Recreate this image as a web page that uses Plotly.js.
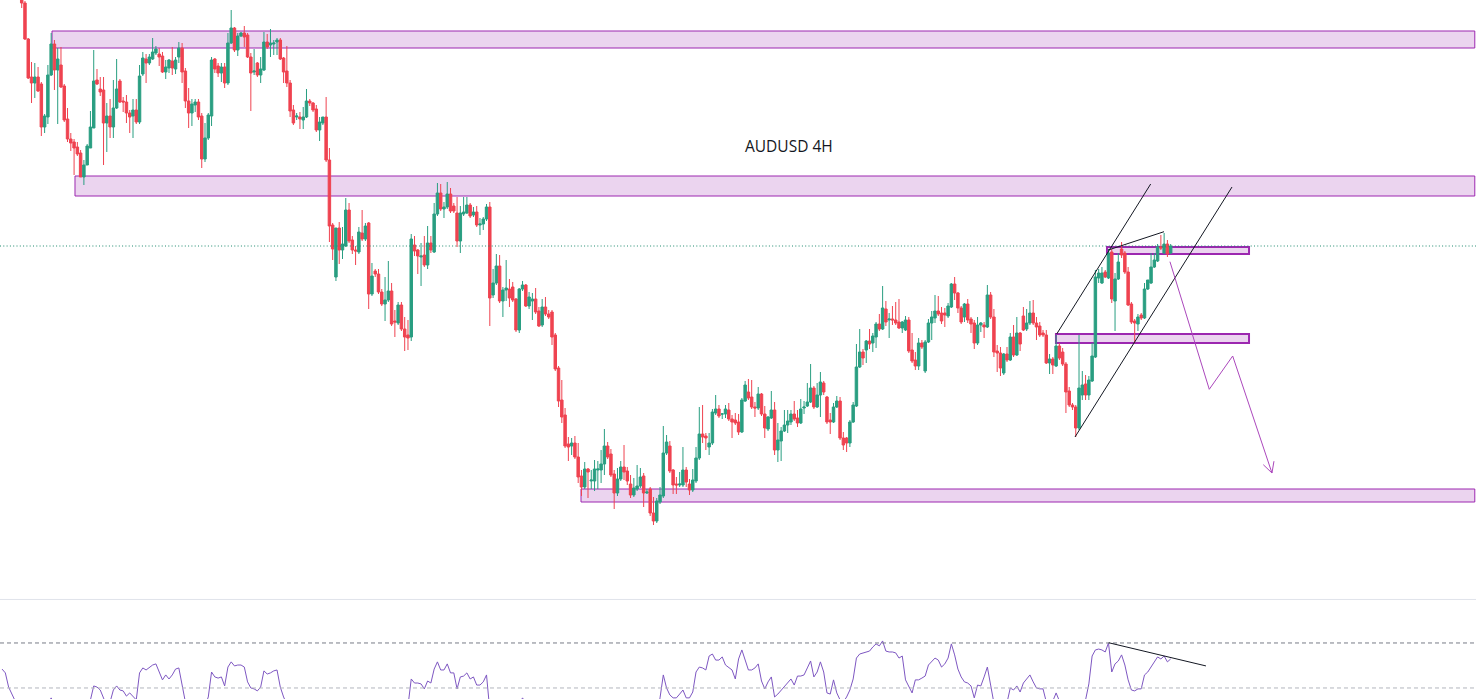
<!DOCTYPE html>
<html>
<head>
<meta charset="utf-8">
<script src="https://cdn.plot.ly/plotly-3.0.1.min.js"></script>
<style>
html,body{margin:0;padding:0;background:#ffffff;}
#chart{width:1476px;height:699px;}
</style>
</head>
<body>
<div id="chart"></div>
<script>
// AUDUSD 4H candles (one entry per bar, oldest first)
const openPrices = [
0.7058,0.7050,0.7040,0.7031,0.7022,0.7013,
0.7005,0.6997,0.6961,0.6923,0.6917,0.6923,0.6916,0.6873,0.6883,0.6925,
0.6956,0.6930,0.6935,0.6914,0.6881,0.6861,0.6858,0.6853,0.6847,0.6823,
0.6835,0.6852,0.6872,0.6920,0.6911,0.6910,0.6877,0.6884,0.6873,0.6892,
0.6919,0.6899,0.6898,0.6887,0.6884,0.6890,0.6878,0.6926,0.6941,0.6937,
0.6941,0.6947,0.6946,0.6944,0.6928,0.6932,0.6939,0.6931,0.6943,0.6952,
0.6929,0.6899,0.6887,0.6895,0.6898,0.6884,0.6841,0.6862,0.6884,0.6941,
0.6934,0.6927,0.6933,0.6917,0.6957,0.6972,0.6950,0.6964,0.6967,0.6965,
0.6943,0.6928,0.6937,0.6925,0.6930,0.6958,0.6955,0.6956,0.6958,0.6960,
0.6942,0.6929,0.6917,0.6890,0.6883,0.6883,0.6880,0.6883,0.6899,0.6897,
0.6891,0.6870,0.6877,0.6883,0.6840,0.6775,0.6723,0.6772,0.6750,0.6754,
0.6790,0.6760,0.6750,0.6748,0.6767,0.6761,0.6777,0.6706,0.6729,0.6726,
0.6708,0.6696,0.6700,0.6709,0.6679,0.6677,0.6695,0.6671,0.6665,0.6663,
0.6755,0.6750,0.6743,0.6745,0.6735,0.6757,0.6748,0.6786,0.6807,0.6791,
0.6793,0.6806,0.6794,0.6787,0.6759,0.6786,0.6787,0.6795,0.6785,0.6788,
0.6775,0.6776,0.6781,0.6793,0.6705,0.6717,0.6734,0.6699,0.6710,0.6711,
0.6713,0.6701,0.6670,0.6711,0.6715,0.6694,0.6699,0.6701,0.6689,0.6675,
0.6693,0.6686,0.6688,0.6665,0.6632,0.6600,0.6585,0.6556,0.6554,0.6557,
0.6543,0.6524,0.6513,0.6531,0.6519,0.6519,0.6530,0.6530,0.6536,0.6554,
0.6546,0.6526,0.6507,0.6521,0.6533,0.6529,0.6516,0.6505,0.6511,0.6514,
0.6524,0.6507,0.6511,0.6487,0.6479,0.6498,0.6504,0.6547,0.6554,0.6530,
0.6516,0.6515,0.6515,0.6530,0.6516,0.6510,0.6519,0.6542,0.6566,0.6564,
0.6553,0.6557,0.6587,0.6591,0.6586,0.6586,0.6590,0.6581,0.6580,0.6578,
0.6568,0.6599,0.6608,0.6603,0.6593,0.6592,0.6606,0.6586,0.6571,0.6582,
0.6590,0.6550,0.6559,0.6569,0.6575,0.6578,0.6586,0.6582,0.6577,0.6592,
0.6594,0.6598,0.6612,0.6593,0.6605,0.6617,0.6603,0.6580,0.6578,0.6593,
0.6599,0.6562,0.6562,0.6557,0.6578,0.6594,0.6633,0.6648,0.6650,0.6659,
0.6657,0.6663,0.6676,0.6671,0.6691,0.6680,0.6681,0.6680,0.6678,0.6672,
0.6670,0.6680,0.6650,0.6640,0.6634,0.6657,0.6629,0.6658,0.6677,0.6682,
0.6689,0.6687,0.6687,0.6684,0.6693,0.6716,0.6707,0.6692,0.6683,0.6696,
0.6681,0.6677,0.6657,0.6675,0.6675,0.6673,0.6705,0.6683,0.6649,0.6647,
0.6627,0.6646,0.6640,0.6663,0.6645,0.6667,0.6684,0.6671,0.6677,0.6687,
0.6677,0.6674,0.6667,0.6665,0.6637,0.6641,0.6634,0.6654,0.6648,0.6636,
0.6609,0.6595,0.6593,0.6572,0.6605,0.6616,0.6605,0.6619,0.6643,0.6722,
0.6717,0.6728,0.6722,0.6748,0.6699,0.6721,0.6751,0.6747,0.6728,0.6696,
0.6679,0.6676,0.6685,0.6682,0.6711,0.6717,0.6733,0.6739,0.6753,0.6747,
0.6756,0.6747];

const highPrices = [
0.7062,0.7055,0.7044,0.7036,0.7027,0.7017,
0.7008,0.6999,0.6962,0.6938,0.6937,0.6933,0.6918,0.6886,0.6935,0.6967,
0.6960,0.6952,0.6953,0.6916,0.6892,0.6867,0.6861,0.6858,0.6850,0.6840,
0.6856,0.6889,0.6950,0.6931,0.6923,0.6923,0.6897,0.6901,0.6920,0.6941,
0.6921,0.6903,0.6905,0.6890,0.6901,0.6901,0.6935,0.6948,0.6946,0.6946,
0.6962,0.6954,0.6952,0.6948,0.6940,0.6941,0.6953,0.6943,0.6958,0.6957,
0.6932,0.6912,0.6901,0.6901,0.6901,0.6887,0.6877,0.6887,0.6943,0.6942,
0.6937,0.6937,0.6937,0.6967,0.6990,0.6973,0.6967,0.6968,0.6974,0.6967,
0.6947,0.6951,0.6938,0.6943,0.6968,0.6966,0.6971,0.6960,0.6962,0.6962,
0.6943,0.6954,0.6920,0.6895,0.6887,0.6888,0.6893,0.6911,0.6901,0.6898,
0.6895,0.6883,0.6883,0.6903,0.6852,0.6777,0.6772,0.6778,0.6773,0.6802,
0.6797,0.6764,0.6754,0.6773,0.6790,0.6777,0.6778,0.6737,0.6731,0.6731,
0.6711,0.6723,0.6739,0.6717,0.6690,0.6698,0.6698,0.6683,0.6680,0.6766,
0.6764,0.6751,0.6757,0.6764,0.6774,0.6764,0.6797,0.6817,0.6816,0.6798,
0.6818,0.6812,0.6797,0.6803,0.6794,0.6803,0.6803,0.6797,0.6793,0.6794,
0.6782,0.6783,0.6796,0.6798,0.6731,0.6746,0.6745,0.6713,0.6740,0.6721,
0.6718,0.6702,0.6712,0.6719,0.6716,0.6708,0.6707,0.6712,0.6693,0.6701,
0.6703,0.6690,0.6690,0.6667,0.6634,0.6620,0.6592,0.6563,0.6562,0.6564,
0.6557,0.6530,0.6538,0.6532,0.6530,0.6540,0.6539,0.6550,0.6571,0.6558,
0.6551,0.6530,0.6532,0.6539,0.6555,0.6533,0.6525,0.6522,0.6535,0.6532,
0.6527,0.6511,0.6513,0.6503,0.6502,0.6513,0.6574,0.6565,0.6559,0.6531,
0.6523,0.6528,0.6553,0.6533,0.6521,0.6531,0.6553,0.6593,0.6595,0.6567,
0.6567,0.6591,0.6605,0.6595,0.6587,0.6595,0.6597,0.6585,0.6587,0.6586,
0.6602,0.6619,0.6621,0.6620,0.6598,0.6613,0.6607,0.6594,0.6584,0.6609,
0.6598,0.6577,0.6573,0.6590,0.6590,0.6590,0.6599,0.6590,0.6601,0.6599,
0.6617,0.6636,0.6614,0.6617,0.6628,0.6619,0.6604,0.6587,0.6597,0.6604,
0.6603,0.6568,0.6563,0.6580,0.6598,0.6656,0.6671,0.6651,0.6660,0.6671,
0.6667,0.6678,0.6686,0.6714,0.6699,0.6687,0.6694,0.6698,0.6701,0.6679,
0.6684,0.6683,0.6667,0.6648,0.6662,0.6660,0.6660,0.6681,0.6689,0.6705,
0.6704,0.6693,0.6692,0.6697,0.6717,0.6723,0.6708,0.6694,0.6697,0.6701,
0.6683,0.6680,0.6683,0.6678,0.6678,0.6715,0.6708,0.6691,0.6655,0.6653,
0.6647,0.6653,0.6667,0.6675,0.6683,0.6668,0.6693,0.6691,0.6699,0.6700,
0.6683,0.6678,0.6670,0.6670,0.6646,0.6643,0.6665,0.6657,0.6652,0.6638,
0.6613,0.6597,0.6595,0.6665,0.6629,0.6625,0.6624,0.6657,0.6730,0.6731,
0.6733,0.6730,0.6751,0.6751,0.6727,0.6747,0.6758,0.6749,0.6733,0.6698,
0.6681,0.6686,0.6687,0.6717,0.6720,0.6747,0.6747,0.6756,0.6765,0.6767,
0.6760,0.6756];

const lowPrices = [
0.7048,0.7038,0.7028,0.7020,0.7010,0.7002,
0.6992,0.6960,0.6921,0.6897,0.6902,0.6908,0.6864,0.6867,0.6876,0.6924,
0.6910,0.6876,0.6912,0.6878,0.6858,0.6849,0.6825,0.6844,0.6823,0.6815,
0.6835,0.6852,0.6872,0.6915,0.6904,0.6835,0.6848,0.6862,0.6862,0.6891,
0.6897,0.6888,0.6877,0.6867,0.6862,0.6876,0.6876,0.6924,0.6917,0.6935,
0.6940,0.6945,0.6934,0.6927,0.6921,0.6927,0.6925,0.6926,0.6937,0.6917,
0.6892,0.6872,0.6874,0.6888,0.6880,0.6832,0.6838,0.6860,0.6874,0.6927,
0.6923,0.6918,0.6912,0.6915,0.6956,0.6948,0.6944,0.6963,0.6953,0.6942,
0.6889,0.6925,0.6923,0.6917,0.6929,0.6951,0.6943,0.6945,0.6945,0.6940,
0.6917,0.6913,0.6883,0.6875,0.6880,0.6871,0.6871,0.6882,0.6894,0.6888,
0.6868,0.6859,0.6875,0.6838,0.6758,0.6740,0.6719,0.6736,0.6741,0.6753,
0.6757,0.6746,0.6735,0.6746,0.6759,0.6759,0.6691,0.6704,0.6723,0.6706,
0.6694,0.6679,0.6698,0.6674,0.6663,0.6675,0.6669,0.6649,0.6650,0.6659,
0.6744,0.6726,0.6714,0.6733,0.6731,0.6747,0.6747,0.6784,0.6789,0.6782,
0.6791,0.6787,0.6787,0.6753,0.6747,0.6784,0.6786,0.6782,0.6783,0.6773,
0.6765,0.6770,0.6779,0.6674,0.6702,0.6715,0.6697,0.6683,0.6699,0.6693,
0.6698,0.6668,0.6667,0.6709,0.6693,0.6691,0.6680,0.6686,0.6673,0.6673,
0.6684,0.6681,0.6655,0.6629,0.6593,0.6577,0.6552,0.6539,0.6545,0.6541,
0.6517,0.6504,0.6511,0.6502,0.6511,0.6509,0.6511,0.6517,0.6525,0.6541,
0.6523,0.6491,0.6504,0.6519,0.6520,0.6515,0.6502,0.6503,0.6509,0.6512,
0.6493,0.6506,0.6484,0.6475,0.6477,0.6496,0.6502,0.6545,0.6527,0.6506,
0.6506,0.6513,0.6513,0.6513,0.6505,0.6508,0.6517,0.6540,0.6557,0.6550,
0.6545,0.6555,0.6585,0.6582,0.6581,0.6582,0.6579,0.6562,0.6575,0.6565,
0.6567,0.6598,0.6600,0.6591,0.6583,0.6590,0.6584,0.6562,0.6569,0.6581,
0.6545,0.6538,0.6539,0.6568,0.6567,0.6575,0.6579,0.6573,0.6576,0.6586,
0.6593,0.6597,0.6591,0.6592,0.6583,0.6605,0.6576,0.6566,0.6577,0.6592,
0.6560,0.6550,0.6548,0.6553,0.6577,0.6593,0.6632,0.6635,0.6637,0.6651,
0.6648,0.6652,0.6669,0.6670,0.6674,0.6662,0.6675,0.6675,0.6671,0.6667,
0.6669,0.6647,0.6637,0.6630,0.6630,0.6651,0.6627,0.6657,0.6660,0.6677,
0.6684,0.6676,0.6673,0.6682,0.6692,0.6700,0.6687,0.6676,0.6678,0.6677,
0.6667,0.6651,0.6655,0.6668,0.6662,0.6672,0.6681,0.6643,0.6628,0.6624,
0.6625,0.6638,0.6639,0.6643,0.6644,0.6649,0.6669,0.6669,0.6675,0.6675,
0.6660,0.6663,0.6663,0.6636,0.6626,0.6626,0.6633,0.6640,0.6634,0.6587,
0.6593,0.6590,0.6563,0.6570,0.6600,0.6600,0.6600,0.6618,0.6642,0.6717,
0.6716,0.6722,0.6721,0.6697,0.6669,0.6720,0.6742,0.6726,0.6694,0.6676,
0.6657,0.6669,0.6680,0.6681,0.6710,0.6716,0.6732,0.6738,0.6750,0.6746,
0.6743,0.6746];

const closePrices = [
0.7050,0.7040,0.7031,0.7022,0.7013,0.7005,
0.6997,0.6961,0.6922,0.6917,0.6923,0.6909,0.6873,0.6884,0.6925,0.6956,
0.6930,0.6941,0.6913,0.6880,0.6861,0.6857,0.6852,0.6846,0.6823,0.6835,
0.6854,0.6873,0.6919,0.6916,0.6908,0.6877,0.6884,0.6873,0.6892,0.6911,
0.6898,0.6898,0.6887,0.6883,0.6890,0.6878,0.6924,0.6942,0.6937,0.6943,
0.6948,0.6951,0.6943,0.6928,0.6933,0.6940,0.6932,0.6940,0.6952,0.6928,
0.6899,0.6887,0.6896,0.6898,0.6883,0.6841,0.6862,0.6885,0.6940,0.6931,
0.6927,0.6933,0.6917,0.6957,0.6972,0.6950,0.6964,0.6967,0.6963,0.6943,
0.6927,0.6929,0.6925,0.6931,0.6958,0.6953,0.6957,0.6957,0.6960,0.6941,
0.6928,0.6917,0.6889,0.6877,0.6884,0.6881,0.6883,0.6899,0.6897,0.6890,
0.6870,0.6878,0.6883,0.6840,0.6774,0.6751,0.6772,0.6750,0.6756,0.6790,
0.6759,0.6750,0.6749,0.6768,0.6761,0.6774,0.6706,0.6724,0.6726,0.6708,
0.6696,0.6700,0.6709,0.6676,0.6678,0.6695,0.6671,0.6663,0.6662,0.6761,
0.6749,0.6744,0.6744,0.6735,0.6757,0.6750,0.6786,0.6807,0.6791,0.6793,
0.6806,0.6789,0.6789,0.6759,0.6787,0.6788,0.6795,0.6784,0.6788,0.6775,
0.6776,0.6781,0.6793,0.6702,0.6717,0.6734,0.6699,0.6710,0.6712,0.6702,
0.6700,0.6670,0.6711,0.6715,0.6694,0.6703,0.6701,0.6688,0.6674,0.6693,
0.6686,0.6683,0.6663,0.6631,0.6599,0.6583,0.6554,0.6553,0.6557,0.6543,
0.6523,0.6513,0.6531,0.6528,0.6520,0.6531,0.6531,0.6536,0.6554,0.6543,
0.6525,0.6507,0.6521,0.6533,0.6528,0.6519,0.6505,0.6512,0.6514,0.6523,
0.6507,0.6508,0.6487,0.6479,0.6499,0.6505,0.6547,0.6558,0.6529,0.6515,
0.6515,0.6516,0.6530,0.6518,0.6510,0.6520,0.6542,0.6566,0.6563,0.6562,
0.6557,0.6588,0.6591,0.6584,0.6586,0.6591,0.6581,0.6578,0.6577,0.6568,
0.6600,0.6615,0.6602,0.6593,0.6592,0.6606,0.6586,0.6572,0.6583,0.6590,
0.6550,0.6560,0.6569,0.6575,0.6579,0.6586,0.6581,0.6577,0.6591,0.6593,
0.6598,0.6612,0.6593,0.6605,0.6618,0.6608,0.6578,0.6578,0.6593,0.6599,
0.6562,0.6555,0.6557,0.6578,0.6595,0.6633,0.6648,0.6642,0.6659,0.6656,
0.6664,0.6676,0.6671,0.6692,0.6678,0.6681,0.6680,0.6677,0.6672,0.6678,
0.6680,0.6649,0.6639,0.6634,0.6657,0.6653,0.6658,0.6677,0.6683,0.6689,
0.6686,0.6679,0.6685,0.6694,0.6716,0.6707,0.6692,0.6678,0.6696,0.6680,
0.6676,0.6657,0.6675,0.6677,0.6673,0.6705,0.6683,0.6648,0.6647,0.6632,
0.6646,0.6640,0.6663,0.6645,0.6667,0.6656,0.6670,0.6677,0.6687,0.6677,
0.6673,0.6665,0.6665,0.6637,0.6641,0.6635,0.6654,0.6642,0.6636,0.6608,
0.6595,0.6593,0.6572,0.6612,0.6615,0.6605,0.6620,0.6644,0.6723,0.6727,
0.6727,0.6723,0.6747,0.6701,0.6721,0.6738,0.6745,0.6728,0.6695,0.6678,
0.6677,0.6683,0.6682,0.6711,0.6720,0.6733,0.6740,0.6753,0.6752,0.6756,
0.6746,0.6754];

// RSI(14) per bar
const rsiValues = [
58.4,56.7,50.4,46.9,43.3,40,37,35,36,38,
41,39,37,40,43,45.6,42,39,36,38,
35,37,40,38,36,39,42,44.7,50.9,50.4,
49.1,44.7,42,43.8,49.1,50.9,49.1,48.7,46.4,47.8,
46,44.7,56.7,58.9,58,59.3,60.2,60.7,57.1,53.6,
55.8,54,55.8,58.4,58.9,50.9,43.8,40,37,35,
38,36,42,46,57.1,54.9,54.4,54.9,50.9,59.3,
61.6,59.8,60.2,60.2,59.3,52.7,50,49.6,48.7,50.4,
57.6,56.2,56.7,57.6,58,50.4,46,42,38,35,
33,36,34,31,29,33,37,35,32,38,
41,39,36,30,27,25,31,34,37,40,
38,35,33,36,39,42,38,35,32,30,
34,37,33,36,42,54,52.2,52.2,51.8,49.6,
53.1,52.2,58.4,61.6,58,58,60.7,56.7,56.7,49.6,
54.9,55.3,56.7,54,54.9,51.3,51.3,52.7,55.8,40,
40,43,41,42,44,41,42,40,43,45.6,
43,41,42,39,34,30,28,25,26,27,
25,23,22,28,27,29,31,32,34,40,
38,35,31,33,36,35,34,32,34,36,
39,34,34,30,28,31,33,40,42,38,
36,45.6,55.8,50,46.9,45.6,45.6,47.3,49.1,45.6,
45.6,48.2,57.1,59.3,58.9,58,64.2,65.1,62.4,62.4,
63.8,60.2,58.9,58,54,62.9,66.9,62.4,58,58,
58.9,60.7,53.1,49.6,52.7,54.9,46,47.3,49.1,50.9,
52.7,54,51.3,55.3,55.3,55.8,58.9,62,54.9,57.1,
61.6,57.1,47.8,47.3,53.6,47.8,44.7,43.8,46,49.1,
54,63.3,65.1,65.6,66,66.4,68.2,69.6,68.7,70.9,
66.4,66,66,65.6,63.3,64.2,53.6,50.9,47.8,53.6,
53.6,54.4,55.3,60.2,62,63.3,62.4,59.3,60.7,63.3,
69.6,64.7,58.4,54.9,52.7,52.2,50.9,45.6,51.3,50.9,
54.9,59.3,51.3,43.3,42,40,41,43.5,50,49.1,
50.9,48.2,52.2,54,55.8,52.7,50,49.6,49.6,43.8,
42,44.2,47.8,44.2,42,40,38,36,34,37,
41,44.7,51.8,64.2,66.9,67.3,66.9,66,70,57.1,
60.7,62,64.7,60.2,53.6,49.1,48.7,49.6,49.6,55.8,
57.1,59.3,61.1,63.8,62.9,64.2,61.6,62.9];

const chartTitle = 'AUDUSD 4H';
const rsiLevels = [70, 50];
const lastPrice = closePrices[closePrices.length - 1];

const barIndex = openPrices.map((_, i) => i);

const UP = '#299e81', DOWN = '#ef4350';
const ZONE_FILL = 'rgba(156,39,176,0.2)', ZONE_LINE = '#9c27b0';

const traces = [
  {
    type: 'candlestick', x: barIndex,
    open: openPrices, high: highPrices, low: lowPrices, close: closePrices,
    xaxis: 'x', yaxis: 'y',
    increasing: {line: {color: UP, width: 1}, fillcolor: UP},
    decreasing: {line: {color: DOWN, width: 1}, fillcolor: DOWN},
    whiskerwidth: 0, hoverinfo: 'skip', showlegend: false
  },
  {
    type: 'scatter', mode: 'lines', x: barIndex, y: rsiValues,
    xaxis: 'x2', yaxis: 'y2',
    line: {color: '#7e57c2', width: 1}, hoverinfo: 'skip', showlegend: false
  }
];

const XR = [-0.629, 450.27];

function zone(x0, x1, y0, y1, w) {
  return {type: 'rect', xref: 'x', yref: 'y', x0: x0, x1: x1, y0: y0, y1: y1,
    fillcolor: ZONE_FILL, line: {color: ZONE_LINE, width: w}, layer: 'below'};
}
function seg(x0, y0, x1, y1, color, yref, dash) {
  return {type: 'line', xref: 'x', yref: yref || 'y', x0: x0, y0: y0, x1: x1, y1: y1,
    line: {color: color, width: 1, dash: dash || 'solid'}};
}

const shapes = [
  zone(15.26, 449.9, 0.6952, 0.6969, 1),
  zone(22.28, 449.9, 0.6804, 0.6824, 1),
  zone(176.86, 449.9, 0.6498, 0.6511, 1),
  zone(337.54, 380.93, 0.6746, 0.6753, 2),
  zone(321.95, 380.93, 0.6657, 0.6666, 2),
  // current price line
  {type: 'line', xref: 'paper', yref: 'y', x0: 0, x1: 1, y0: lastPrice, y1: lastPrice,
   line: {color: '#1e8a6e', width: 1, dash: '1px,2.3px'}},
  // channel
  seg(322.18, 0.6666, 350.89, 0.6816, '#131722'),
  seg(327.77, 0.6563, 375.73, 0.6813, '#131722'),
  seg(337.94, 0.6750, 354.96, 0.67683, '#131722'),
  // projected path
  seg(356.78, 0.67383, 368.79, 0.66107, '#ab47bc'),
  seg(368.79, 0.66107, 375.94, 0.6644, '#ab47bc'),
  seg(375.94, 0.6644, 387.94, 0.6527, '#ab47bc'),
  seg(387.94, 0.6527, 388.55, 0.65388, '#ab47bc'),
  seg(387.94, 0.6527, 385.29, 0.65353, '#ab47bc'),
  // pane separator
  {type: 'line', xref: 'paper', yref: 'paper', x0: 0, x1: 1, y0: 0.1424, y1: 0.1424,
   line: {color: '#e0e3eb', width: 1}},
  // RSI levels
  {type: 'line', xref: 'paper', yref: 'y2', x0: 0, x1: 1, y0: rsiLevels[0], y1: rsiLevels[0],
   line: {color: '#787b86', width: 1, dash: '4px,3px'}},
  {type: 'line', xref: 'paper', yref: 'y2', x0: 0, x1: 1, y0: rsiLevels[1], y1: rsiLevels[1],
   line: {color: '#b2b5be', width: 1, dash: '4px,3px'}},
  // RSI divergence line
  seg(338.09, 70.1, 367.77, 59.8, '#131722', 'y2')
];

const axisCommon = {showgrid: false, zeroline: false, showticklabels: false, ticks: '',
  showline: false, fixedrange: true};

const layout = {
  width: 1476, height: 699,
  margin: {l: 0, r: 0, t: 0, b: 0, pad: 0},
  paper_bgcolor: '#ffffff', plot_bgcolor: '#ffffff',
  showlegend: false,
  boxgap: 0.25, boxgroupgap: 0,
  xaxis: Object.assign({}, axisCommon, {range: XR, anchor: 'y', rangeslider: {visible: false}}),
  yaxis: Object.assign({}, axisCommon, {domain: [100/699, 1], range: [0.6401, 0.7000], anchor: 'x'}),
  xaxis2: Object.assign({}, axisCommon, {range: XR, anchor: 'y2', rangeslider: {visible: false}}),
  yaxis2: Object.assign({}, axisCommon, {domain: [0, 99/699], range: [45.1, 89.1], anchor: 'x2'}),
  shapes: shapes,
  annotations: [{
    text: chartTitle, xref: 'paper', yref: 'paper', x: 789/1476, y: 1 - 145.5/699,
    xanchor: 'center', yanchor: 'middle', showarrow: false,
    font: {family: '"Open Sans", Arial, sans-serif', size: 15.5, color: '#131722'}
  }]
};

Plotly.newPlot('chart', traces, layout, {staticPlot: true, displayModeBar: false});
</script>
</body>
</html>
